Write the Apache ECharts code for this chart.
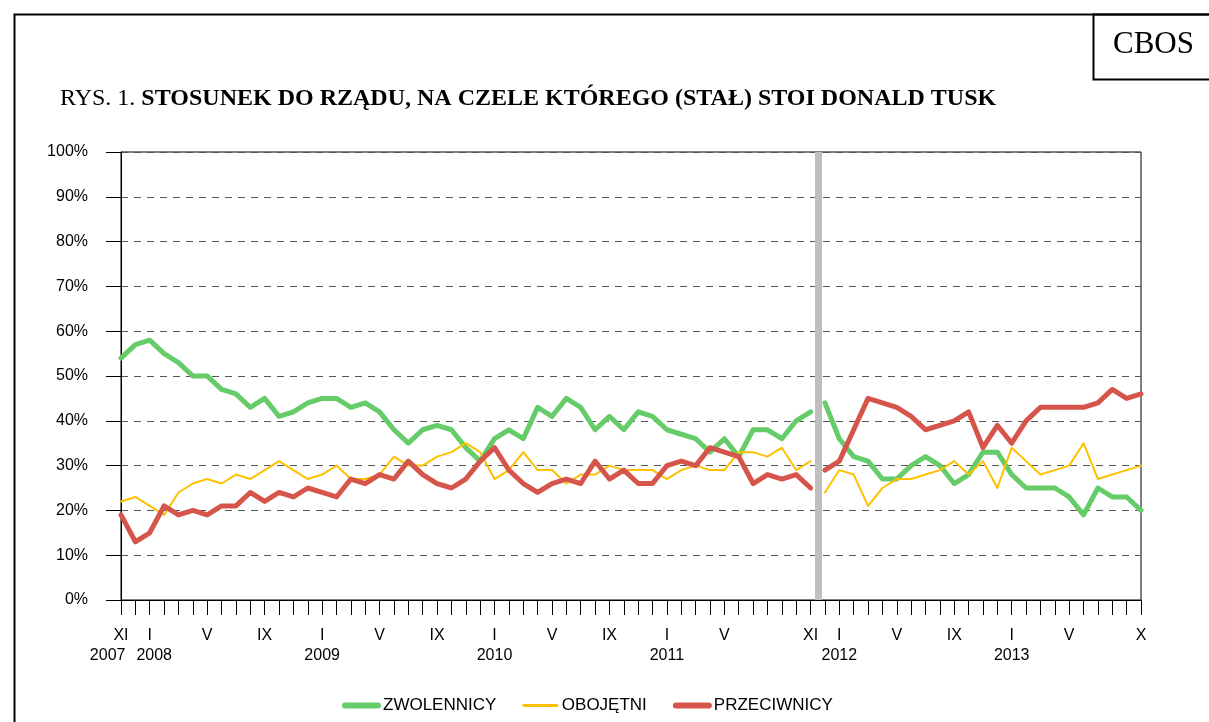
<!DOCTYPE html>
<html>
<head>
<meta charset="utf-8">
<script src="https://cdn.jsdelivr.net/npm/echarts@6/dist/echarts.min.js"></script>
<style>
html,body{margin:0;padding:0;background:#fff;}
#chart{width:1209px;height:722px;}
</style>
</head>
<body>
<div id="chart"></div>
<script>
// Monthly index 0 = XI 2007 ... 71 = X 2013
const tickIndex = [0, 2, 6, 10, 14, 18, 22, 26, 30, 34, 38, 42, 48, 50, 54, 58, 62, 66, 71];
const tickMonth = ['XI','I','V','IX','I','V','IX','I','V','IX','I','V','XI','I','V','IX','I','V','X'];
const tickYear  = ['2007','2008','','','2009','','','2010','','','2011','','','2012','','','2013','',''];

const seriesNames = ['ZWOLENNICY', 'OBOJĘTNI', 'PRZECIWNICY'];

// XI 2007 - XI 2011 (index 0..48)
const zwolennicyA = [54,57,58,55,53,50,50,47,46,43,45,41,42,44,45,45,43,44,42,38,35,38,39,38,34,31,36,38,36,43,41,45,43,38,41,38,42,41,38,37,36,33,36,32,38,38,36,40,42];
const obojetniA   = [22,23,21,19,24,26,27,26,28,27,29,31,29,27,28,30,27,27,28,32,30,30,32,33,35,33,27,29,33,29,29,26,28,28,30,29,29,29,27,29,30,29,29,33,33,32,34,29,31];
const przeciwnicyA= [19,13,15,21,19,20,19,21,21,24,22,24,23,25,24,23,27,26,28,27,31,28,26,25,27,31,34,29,26,24,26,27,26,31,27,29,26,26,30,31,30,34,33,32,26,28,27,28,25];
// XII 2011 - X 2013 (index 49..71)
const zwolennicyB = [44,36,32,31,27,27,30,32,30,26,28,33,33,28,25,25,25,23,19,25,23,23,20];
const obojetniB   = [24,29,28,21,25,27,27,28,29,31,28,31,25,34,31,28,29,30,35,27,28,29,30];
const przeciwnicyB= [29,31,38,45,44,43,41,38,39,40,42,34,39,35,40,43,43,43,43,44,47,45,46];

const startB = 49;
const breakAt = 48.5;

function toPairs(arr, offset) { return arr.map((v, i) => [i + offset, v]); }

const colors = ['#66cc6a', '#ffc000', '#d6554b'];
const widths = [5, 2, 5];

const segs = [
  [zwolennicyA, zwolennicyB],
  [obojetniA, obojetniB],
  [przeciwnicyA, przeciwnicyB]
];

const series = [];
segs.forEach((pair, k) => {
  pair.forEach((arr, j) => {
    const s = {
      name: seriesNames[k],
      type: 'line',
      data: toPairs(arr, j === 0 ? 0 : startB),
      symbol: 'none',
      color: colors[k],
      lineStyle: { color: colors[k], width: widths[k], cap: 'round', join: 'round' },
      z: 3 + k,
      animation: false
    };
    if (k === 0 && j === 0) {
      s.markLine = {
        silent: true,
        symbol: ['none', 'none'],
        label: { show: false },
        lineStyle: { color: '#bfbfbf', width: 7, type: 'solid' },
        data: [{ xAxis: breakAt }],
        z: 1
      };
    }
    series.push(s);
  });
});

const chart = echarts.init(document.getElementById('chart'));
chart.setOption({
  backgroundColor: '#ffffff',
  animation: false,
  title: {
    text: '{n|RYS. 1. }{b|STOSUNEK DO RZĄDU, NA CZELE KTÓREGO (STAŁ) STOI DONALD TUSK}',
    left: 60,
    top: 87,
    padding: 0,
    textStyle: {
      rich: {
        n: { fontFamily: 'Liberation Serif', fontSize: 24, color: '#000', fontWeight: 'normal' },
        b: { fontFamily: 'Liberation Serif', fontSize: 24, color: '#000', fontWeight: 'bold' }
      }
    }
  },
  graphic: [
    { type: 'rect', left: 12, top: 12, silent: true, shape: { width: 1300, height: 800 }, style: { fill: 'none', stroke: '#000', lineWidth: 2 } },
    { type: 'rect', left: 1091, top: 12, silent: true, shape: { width: 200, height: 65 }, style: { fill: 'none', stroke: '#000', lineWidth: 2 } },
    { type: 'text', left: 1113, top: 29, silent: true, style: { text: 'CBOS', fontFamily: 'Liberation Serif', fontSize: 31, fill: '#000' } }
  ],
  legend: {
    data: seriesNames.map((n, k) => ({
      name: n,
      itemStyle: { opacity: 0 },
      lineStyle: { width: widths[k] + 1, cap: 'round', color: colors[k] }
    })),
    left: 342,
    top: 697,
    padding: 0,
    itemWidth: 33,
    itemHeight: 12,
    itemGap: 26,
    itemStyle: { opacity: 0 },
    textStyle: { fontFamily: 'Liberation Sans', fontSize: 17, color: '#000' }
  },
  grid: {
    left: 121, right: 68, top: 152, bottom: 122,
    show: true, borderColor: '#000', borderWidth: 1, backgroundColor: 'transparent'
  },
  xAxis: {
    type: 'value',
    min: 0, max: 71, interval: 1,
    axisLine: { show: true, lineStyle: { color: '#000', width: 1 } },
    axisTick: { show: true, length: 15, lineStyle: { color: '#000', width: 1 } },
    splitLine: { show: false },
    axisLabel: {
      margin: 26,
      lineHeight: 20,
      fontFamily: 'Liberation Sans', fontSize: 16, color: '#000',
      formatter: function (v) {
        const p = tickIndex.indexOf(v);
        if (p < 0) return '';
        let y = tickYear[p];
        if (v === 0) y = y + '      ';
        if (v === 2) y = '  ' + y;
        return y ? tickMonth[p] + '\n' + y : tickMonth[p];
      }
    }
  },
  yAxis: {
    type: 'value',
    min: 0, max: 100, interval: 10,
    axisLine: { show: true, lineStyle: { color: '#000', width: 1 } },
    axisTick: { show: true, length: 15, lineStyle: { color: '#000', width: 1 } },
    axisLabel: { margin: 33, fontFamily: 'Liberation Sans', fontSize: 16, color: '#000', formatter: '{value}%' },
    splitLine: { show: true, lineStyle: { color: '#555', width: 1, type: [7, 6] } }
  },
  series: series
});
</script>
</body>
</html>
